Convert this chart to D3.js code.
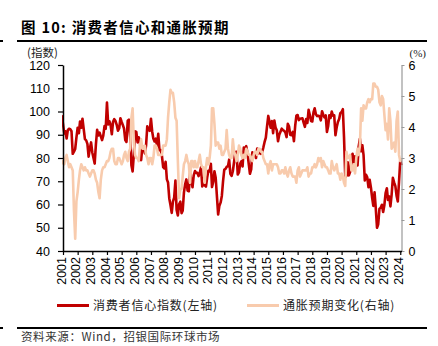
<!DOCTYPE html>
<html><head><meta charset="utf-8">
<script src="https://cdn.jsdelivr.net/npm/d3@7"></script>
<style>body{margin:0;background:#fff}svg{display:block}</style>
</head><body>
<svg id="c" width="438" height="346"></svg>
<script>
// ---- data (monthly, first value = Dec 2000) ----
const startMonth = "2000-12";
const sentiment = [98.4,
94.7,90.6,91.5,88.4,92.0,92.6,92.4,91.5,81.8,82.7,83.9,88.8,
93.0,90.7,95.7,93.0,96.9,92.4,88.1,87.6,86.1,80.6,84.2,86.7,
82.4,79.9,77.6,86.0,92.1,89.7,90.9,89.3,87.7,89.6,93.7,92.6,
103.8,94.4,95.8,94.2,90.2,95.6,96.7,95.9,94.2,91.7,92.8,97.1,
95.5,94.1,92.6,87.7,86.9,96.0,96.5,89.1,76.9,74.2,81.6,91.5,
91.2,86.7,88.9,87.4,79.1,84.9,84.7,82.0,85.4,93.6,92.1,91.7,
96.9,91.3,88.4,87.1,88.3,85.3,90.4,83.4,83.4,80.9,76.1,75.5,
78.4,70.8,69.5,62.6,59.8,56.4,61.2,63.0,70.3,57.6,55.3,60.1,
61.2,56.3,57.3,65.1,68.7,70.8,66.0,65.7,73.5,70.6,67.4,72.5,
74.4,73.6,73.6,72.2,73.6,76.0,67.8,68.9,68.2,67.7,71.6,74.5,
74.2,77.5,67.5,69.8,74.3,71.5,63.7,55.7,59.5,60.8,63.7,69.9,
75.0,75.3,76.2,76.4,79.3,73.2,72.3,74.3,78.3,82.6,82.7,72.9,
73.8,77.6,78.6,76.4,84.5,84.1,85.1,82.1,77.5,73.2,75.1,82.5,
81.2,81.6,80.0,84.1,81.9,82.5,81.8,82.5,84.6,86.9,88.8,93.6,
98.1,95.4,93.0,95.9,90.7,96.1,93.1,91.9,87.2,90.0,91.3,92.6,
92.0,91.7,91.0,89.0,94.7,93.5,90.0,89.8,91.2,87.2,93.8,98.2,
98.5,96.3,96.9,97.0,97.1,95.1,93.4,96.8,95.1,100.7,98.5,95.9,
95.7,99.7,101.4,98.8,98.0,98.2,97.9,96.2,100.1,98.6,97.5,98.3,
91.2,93.8,98.4,97.2,100.0,98.2,98.4,89.8,93.2,95.5,96.8,99.3,
99.8,101.0,89.1,71.8,72.3,78.1,72.5,74.1,80.4,81.8,76.9,80.7,
79.0,76.8,84.9,88.3,82.9,85.5,81.2,70.3,72.8,71.7,67.4,70.6,
67.2,62.8,59.4,65.2,58.4,50.0,51.5,58.2,58.6,59.9,56.8,59.7,
64.9,67.0,62.0,63.5,59.2,64.4,71.5,69.5,67.9,63.8,61.3,69.7,
79.0,76.9];
const inflationExp = [2.8,
2.9,2.8,3.0,3.1,2.9,2.7,2.8,2.7,2.6,1.3,0.4,1.6,
1.9,2.3,2.6,2.8,2.7,2.6,2.7,2.6,2.6,2.5,2.4,2.5,
2.6,2.6,2.5,2.3,2.2,1.9,1.7,2.3,2.6,2.7,2.7,2.8,
2.9,2.9,3.0,3.2,3.3,3.3,2.9,2.8,2.8,3.0,3.0,2.9,
2.8,2.9,3.1,3.2,3.0,2.9,3.2,3.3,4.3,4.6,3.5,3.1,
3.0,3.0,2.9,3.4,3.6,3.3,3.3,3.4,3.1,3.0,2.8,3.0,
3.0,2.8,3.0,3.4,3.4,3.3,3.1,3.1,3.1,3.1,3.4,3.4,
3.4,3.6,4.3,4.8,5.2,5.1,5.1,4.8,4.3,4.2,2.9,1.7,
2.0,2.0,2.4,2.8,2.9,3.1,2.9,2.8,2.2,2.9,2.9,2.7,
2.9,2.7,2.7,2.9,3.1,2.8,2.7,2.7,2.2,2.7,3.0,2.8,
3.0,3.4,4.6,4.6,4.1,3.4,3.5,3.5,3.3,3.4,3.1,3.1,
3.2,3.3,3.9,3.3,3.1,3.0,3.0,3.6,3.2,3.1,2.9,3.1,
3.4,3.3,3.1,3.0,3.1,3.0,3.3,3.2,3.1,3.1,3.0,2.9,
3.1,3.2,3.2,3.1,3.3,3.3,3.2,3.2,3.0,2.9,2.8,2.8,
2.5,2.8,2.9,2.6,2.8,2.8,2.8,2.8,2.7,2.5,2.5,2.6,
2.6,2.5,2.7,2.5,2.4,2.6,2.7,2.5,2.4,2.4,2.4,2.2,
2.6,2.7,2.4,2.5,2.6,2.6,2.6,2.6,2.7,2.4,2.5,2.5,
2.7,2.7,2.8,2.7,2.8,3.0,2.9,3.0,2.7,2.9,2.8,2.7,
2.7,2.6,2.5,2.5,2.9,2.7,2.6,2.7,2.8,2.5,2.5,2.3,
2.5,2.4,2.2,2.1,3.2,3.0,3.0,3.1,2.6,2.6,2.8,2.5,
3.0,3.3,3.1,3.4,4.6,4.2,4.7,4.6,4.6,4.8,4.9,4.8,
4.9,4.9,5.4,5.4,5.3,5.3,5.2,4.8,4.7,5.0,4.9,4.4,
3.9,4.1,3.6,4.6,4.2,3.3,3.4,3.5,3.2,4.2,4.5,3.1,
2.9,3.0];
const yearTicks = d3.range(2001, 2025);
const leftTicks = [40,50,60,70,80,90,100,110,120];
const rightTicks = [0,1,2,3,4,5,6];
const seriesNames = ["消费者信心指数(左轴)", "通胀预期变化(右轴)"];
const seriesColors = ["#C00000", "#F8CBAD"];
const titleText = "图 10: 消费者信心和通胀预期";
const sourceText = "资料来源：Wind，招银国际环球市场";

// ---- build ----
const parse = d3.timeParse("%Y-%m");
const t0 = parse(startMonth);
const dates = sentiment.map((_, i) => d3.timeMonth.offset(t0, i));

const svg = d3.select("#c");
const L = 63, R = 401.5, T = 65, B = 251;
const x = d3.scaleTime().domain([new Date(2001,0,1), new Date(2024,1,1)]).range([L, R]);
const yL = d3.scaleLinear().domain([40,120]).range([B, T]);
const yR = d3.scaleLinear().domain([0,6]).range([B, T]);
const axFont = "'Liberation Sans', Arial, sans-serif";
const cjk = "'Noto Sans CJK SC', sans-serif";

// title
svg.append("text").attr("x", 21).attr("y", 33).text(titleText)
  .attr("font-family", cjk).attr("font-weight", "bold").attr("font-size", 14.5)
  .attr("letter-spacing", 1.3).attr("fill", "#000");
svg.append("line").attr("x1", 17).attr("x2", 427).attr("y1", 41).attr("y2", 41).attr("stroke", "#000").attr("stroke-width", 2.2);
svg.append("line").attr("x1", 0).attr("x2", 3).attr("y1", 41).attr("y2", 41).attr("stroke", "#000").attr("stroke-width", 2);

svg.append("text").attr("x", 27).attr("y", 57).text("(指数)")
  .attr("font-family", cjk).attr("font-size", 11.5).attr("fill", "#222");
svg.append("text").attr("x", 426).attr("y", 57).attr("text-anchor", "end").text("(%)")
  .attr("font-family", "'Liberation Serif', serif").attr("font-size", 11).attr("fill", "#222");

// clip
svg.append("clipPath").attr("id", "pc").append("rect").attr("x", L - 1).attr("y", T - 5).attr("width", R - L + 3).attr("height", B - T + 5);
const g = svg.append("g").attr("clip-path", "url(#pc)");

const lineL = d3.line().x((d, i) => x(dates[i])).y(d => yL(d)).curve(d3.curveLinear);
const lineR = d3.line().x((d, i) => x(dates[i])).y(d => yR(d)).curve(d3.curveLinear);
g.append("path").attr("d", lineL(sentiment)).attr("fill", "none").attr("stroke", seriesColors[0]).attr("stroke-width", 2.6).attr("stroke-linejoin", "round");
g.append("path").attr("d", lineR(inflationExp)).attr("fill", "none").attr("stroke", seriesColors[1]).attr("stroke-width", 2.6).attr("stroke-linejoin", "round");

// axes
const axL = svg.append("g").attr("transform", `translate(${L},0)`)
  .call(d3.axisLeft(yL).tickValues(leftTicks).tickSize(5).tickSizeOuter(0).tickPadding(8));
axL.select(".domain").attr("stroke", "#000").attr("stroke-width", 1.5);
axL.selectAll(".tick line").attr("stroke", "#000").attr("stroke-width", 1.2);
axL.selectAll("text").attr("font-family", axFont).attr("font-size", 12.5).attr("fill", "#000");

const axR = svg.append("g").attr("transform", `translate(${R},0)`)
  .call(d3.axisRight(yR).tickValues(rightTicks).tickFormat(d3.format("d")).tickSize(3).tickSizeOuter(0).tickPadding(4));
axR.select(".domain").attr("stroke", "#999").attr("stroke-width", 1.2);
axR.selectAll(".tick line").attr("stroke", "#999");
axR.selectAll("text").attr("font-family", axFont).attr("font-size", 12.5).attr("fill", "#000");

const axB = svg.append("g").attr("transform", `translate(0,${B})`)
  .call(d3.axisBottom(x).tickValues(yearTicks.map(y => new Date(y,0,1))).tickFormat(d3.timeFormat("%Y")).tickSize(4).tickSizeOuter(0));
axB.select(".domain").attr("stroke", "#000").attr("stroke-width", 1.5);
axB.selectAll(".tick line").attr("stroke", "#000").attr("stroke-width", 1.2);
axB.selectAll("text").attr("font-family", axFont).attr("font-size", 12.5).attr("fill", "#000")
  .attr("transform", "rotate(-90)").attr("text-anchor", "end").attr("dx", "-6").attr("dy", "-0.15em").attr("y", 0).attr("x", 0)
  .attr("dominant-baseline", "central");

// legend
const lg = svg.append("g");
const legX = [57, 247];
seriesNames.forEach((n, i) => {
  lg.append("line").attr("x1", legX[i]).attr("x2", legX[i] + 32).attr("y1", 305.5).attr("y2", 305.5)
    .attr("stroke", seriesColors[i]).attr("stroke-width", 3);
  lg.append("text").attr("x", legX[i] + 36).attr("y", 310).text(n)
    .attr("font-family", cjk).attr("font-size", 12).attr("letter-spacing", 0.8).attr("fill", "#222");
});

svg.append("line").attr("x1", 17).attr("x2", 427).attr("y1", 328).attr("y2", 328).attr("stroke", "#000").attr("stroke-width", 2.2);
svg.append("line").attr("x1", 0).attr("x2", 3).attr("y1", 328).attr("y2", 328).attr("stroke", "#000").attr("stroke-width", 2);
svg.append("text").attr("x", 21).attr("y", 341).text(sourceText)
  .attr("font-family", cjk).attr("font-size", 11.5).attr("letter-spacing", 0.6).attr("fill", "#333");
</script>
</body></html>
